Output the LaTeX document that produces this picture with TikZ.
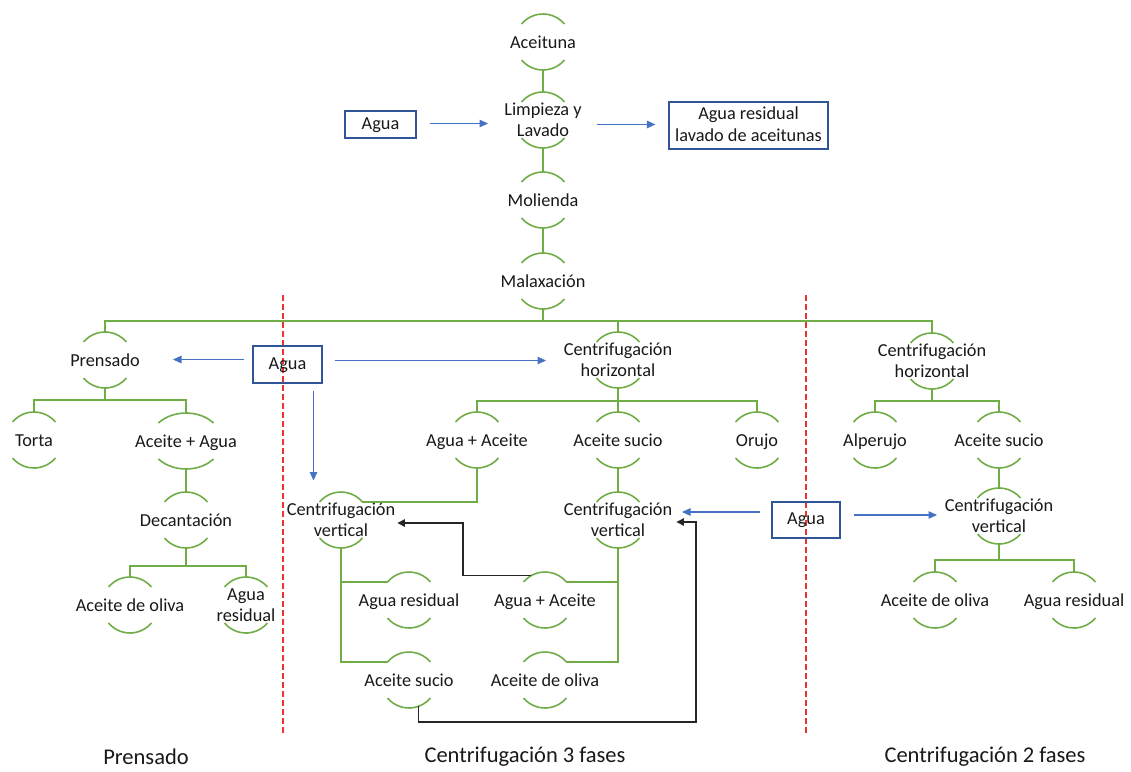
\documentclass[tikz,border=0pt]{standalone}
\usepackage{fontspec}
\setmainfont{Carlito}
\usetikzlibrary{arrows.meta}

\definecolor{smgreen}{RGB}{112,173,71}
\definecolor{flowblue}{RGB}{68,114,196}
\definecolor{boxblue}{RGB}{47,85,151}
\definecolor{divred}{RGB}{238,50,50}

% a process stage: text with a green arc above and below
% #1 horizontal radius of the arcs, #2 name, #3,#4 centre, #5 text
\newcommand\procnode[5][28]{%
  \node[stagetext] (#2) at (#3,#4) {#5};
  \draw[arcline] (#3,#4) ++(220:#1 and 28) arc[start angle=220,end angle=320,x radius=#1,y radius=28];
  \draw[arcline] (#3,#4) ++(140:#1 and 28) arc[start angle=140,end angle=40,x radius=#1,y radius=28];
  \path (#3,#4) ++(0,-28) coordinate (#2-t);
  \path (#3,#4) ++(0,28) coordinate (#2-b);
  \path (#3,#4) ++(220:#1 and 28) coordinate (#2-tl);
  \path (#3,#4) ++(320:#1 and 28) coordinate (#2-tr);
}

\begin{document}
\begin{tikzpicture}[x=1pt,y=-1pt,
  evenlines/.style={execute at begin node={\vphantom{Adg}},
    execute at end node={\vphantom{Adg}}},
  stagetext/.style={align=center, inner sep=0pt, text=black!90, evenlines,
    yshift=-1.5pt, font=\fontsize{18.3}{21.5}\selectfont},
  arcline/.style={draw=smgreen, line width=1.6},
  tree/.style={draw=smgreen, line width=1.8},
  flow/.style={draw=flowblue, line width=1.1, -{Triangle[length=8.5,width=7.5]}},
  back/.style={draw=black!85, line width=1.2, -{Triangle[length=7.5,width=7.5]}},
  inbox/.style={draw=boxblue, line width=1.2, align=center, inner sep=0pt,
    text=black!90, evenlines, font=\fontsize{18.3}{21.5}\selectfont},
  divider/.style={draw=divred, line width=1.4, dash pattern=on 6 off 3},
  phase/.style={inner sep=0pt, text=black!90, font=\fontsize{22.5}{26}\selectfont}]

\useasboundingbox (0,0) rectangle (1131,771);
\fill[white] (0,0) rectangle (1131,771);

% phase dividers
\draw[divider] (283,295) -- (283,735);
\draw[divider] (806,295) -- (806,735);

% main line
\procnode{aceit}{543}{42}{Aceituna}
\procnode{limp}{543}{120}{Limpieza y\\Lavado}
\procnode{mol}{543}{200}{Molienda}
\procnode{malax}{543}{281}{Malaxación}

% pressing
\procnode{pren}{105}{360}{Prensado}
\procnode{torta}{34}{440}{Torta}
\procnode[36]{acag}{186}{441}{Aceite + Agua}
\procnode{decan}{186}{520}{Decantación}
\procnode{pol}{130}{605}{Aceite de oliva}
\procnode{pres}{246}{605}{Agua\\residual}

% three-phase centrifugation
\procnode{cfh}{618}{360}{Centrifugación\\horizontal}
\procnode{aga3}{477}{440}{Agua + Aceite}
\procnode{asu3}{618}{440}{Aceite sucio}
\procnode{oru}{757}{440}{Orujo}
\procnode{cvl}{341}{520}{Centrifugación\\vertical}
\procnode{cvm}{618}{520}{Centrifugación\\vertical}
\procnode{ar3}{409}{600}{Agua residual}
\procnode{aa3}{545}{600}{Agua + Aceite}
\procnode{as3}{409}{680}{Aceite sucio}
\procnode{ao3}{545}{680}{Aceite de oliva}

% two-phase centrifugation
\procnode{cfh2}{932}{361}{Centrifugación\\horizontal}
\procnode{alp}{875}{440}{Alperujo}
\procnode{asu2}{999}{440}{Aceite sucio}
\procnode{cv2}{999}{516}{Centrifugación\\vertical}
\procnode{ao2}{935}{600}{Aceite de oliva}
\procnode{ar2}{1074}{600}{Agua residual}

% branching points
\coordinate (j0) at (543,321);
\coordinate (j1) at (105,400);
\coordinate (j2) at (186,566);
\coordinate (j3) at (618,401);
\coordinate (j4) at (932,401);
\coordinate (j5) at (999,560);

% green hierarchy
\draw[tree] (aceit-b) -- (limp-t);
\draw[tree] (limp-b) -- (mol-t);
\draw[tree] (mol-b) -- (malax-t);
\draw[tree] (malax-b) -- (j0);
\draw[tree] (pren-t) |- (j0) -| (cfh2-t);
\draw[tree] (j0) -| (cfh-t);

\draw[tree] (pren-b) -- (j1);
\draw[tree] (torta-t) |- (j1) -| (acag-t);
\draw[tree] (acag-b) -- (decan-t);
\draw[tree] (decan-b) -- (j2);
\draw[tree] (pol-t) |- (j2) -| (pres-t);

\draw[tree] (cfh-b) -- (j3);
\draw[tree] (aga3-t) |- (j3) -| (oru-t);
\draw[tree] (j3) -- (asu3-t);
\draw[tree] (asu3-b) -- (cvm-t);
\draw[tree] (aga3-b) |- (cvl-tr);
\draw[tree] (cvl-b) |- (as3-tl);
\draw[tree] (ar3-tl) -- (ar3-tl -| cvl-b);
\draw[tree] (cvm-b) |- (ao3-tr);
\draw[tree] (aa3-tr) -- (aa3-tr -| cvm-b);

\draw[tree] (cfh2-b) -- (j4);
\draw[tree] (alp-t) |- (j4) -| (asu2-t);
\draw[tree] (asu2-b) -- (cv2-t);
\draw[tree] (cv2-b) -- (j5);
\draw[tree] (ao2-t) |- (j5) -| (ar2-t);

% water inputs and outputs
\node[inbox, minimum width=71, minimum height=27] (aguaA) at (380.5,124.5) {Agua};
\node[inbox, minimum width=159, minimum height=47] (resA) at (748.5,125.5) {Agua residual\\lavado de aceitunas};
\node[inbox, minimum width=69, minimum height=37] (aguaM) at (287.5,364.5) {Agua};
\node[inbox, minimum width=68, minimum height=36] (aguaR) at (806,520) {Agua};

\draw[flow, shorten <=13, shorten >=55] ([yshift=1]aguaA.east) -- ([yshift=1]aguaA.east -| limp.center);
\draw[flow, shorten <=54, shorten >=13] ([yshift=1]resA.west -| limp.center) -- ([yshift=1]resA.west);
\draw[flow, shorten <=8, shorten >=68] ([yshift=5]aguaM.west) -- ([yshift=5]aguaM.west -| pren.center);
\draw[flow, shorten <=12, shorten >=72] ([yshift=4]aguaM.east) -- ([yshift=4]aguaM.east -| cfh.center);
\draw[flow, shorten <=7, shorten >=41] ([xshift=26]aguaM.south) -- ([xshift=26]aguaM.south |- cvl.center);
\draw[flow, shorten <=11, shorten >=64] ([yshift=8]aguaR.west) -- ([yshift=8]aguaR.west -| cvm.center);
\draw[flow, shorten <=13, shorten >=62] ([yshift=5]aguaR.east) -- ([yshift=5]aguaR.east -| cv2.center);

% recirculation
\path (545,600) ++(240:28) coordinate (aa3-k);
\path (409,680) ++(70:28) coordinate (as3-k);
\coordinate (r1) at (463,523);
\coordinate (r2) at (696,722);
\path (cvl.east) ++(2,1.5) coordinate (cvl-in);
\path (cvm.east) ++(4,0.5) coordinate (cvm-in);
\draw[back] (aa3-k) -| (r1) -- (cvl-in);
\draw[back] (as3-k) |- (r2) |- (cvm-in);

% phase titles
\node[phase] (t1) at (146,757) {Prensado};
\node[phase] (t2) at (525,757) {Centrifugación 3 fases};
\node[phase] (t3) at (985,757) {Centrifugación 2 fases};
\end{tikzpicture}
\end{document}
